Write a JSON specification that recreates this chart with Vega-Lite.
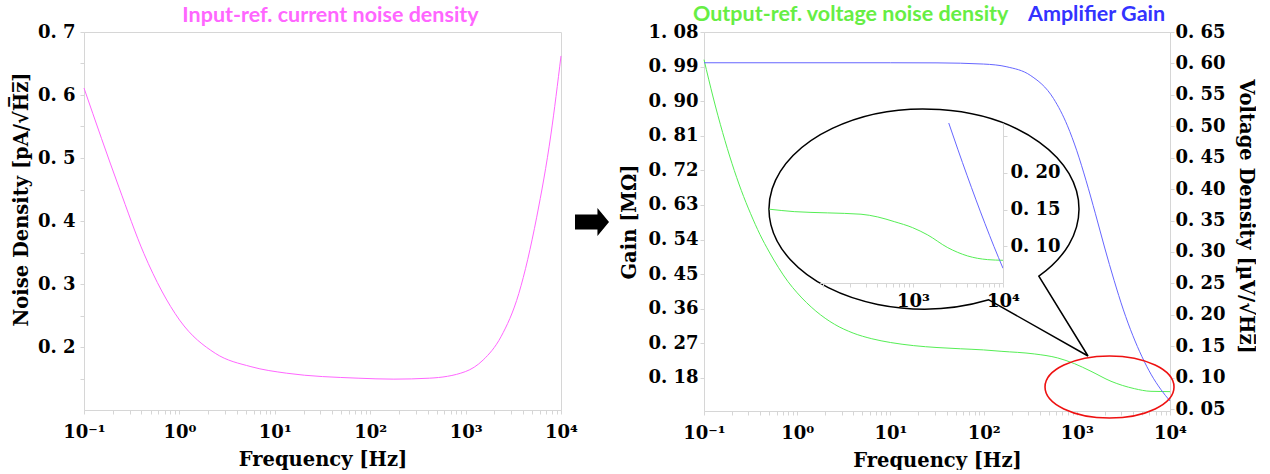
{
  "$schema": "https://vega.github.io/schema/vega-lite/v6.json",
  "background": "white",
  "padding": {"left": 10, "top": 3, "right": 0, "bottom": 0},
  "bounds": "flush",
  "spacing": 143,
  "datasets": {
    "pink": [
      {"f": 0.1, "v": 0.611}, {"f": 0.2323, "v": 0.4536}, {"f": 0.4246, "v": 0.3483},
      {"f": 1.005, "v": 0.2427}, {"f": 2.377, "v": 0.19}, {"f": 5.623, "v": 0.1688},
      {"f": 13.34, "v": 0.1584}, {"f": 74.65, "v": 0.1505}, {"f": 177.0, "v": 0.149},
      {"f": 418.8, "v": 0.1505}, {"f": 993, "v": 0.1609}, {"f": 1528, "v": 0.1794},
      {"f": 2350, "v": 0.2163}, {"f": 3614, "v": 0.285}, {"f": 5559, "v": 0.406},
      {"f": 7852, "v": 0.538}, {"f": 10000, "v": 0.662}
    ],
    "green": [
      {"f": 0.1, "v": 0.606}, {"f": 0.1259, "v": 0.545}, {"f": 0.1585, "v": 0.49},
      {"f": 0.1995, "v": 0.441}, {"f": 0.2512, "v": 0.398}, {"f": 0.3162, "v": 0.361},
      {"f": 0.3981, "v": 0.328}, {"f": 0.5012, "v": 0.3}, {"f": 0.631, "v": 0.275},
      {"f": 0.7943, "v": 0.253}, {"f": 1.0, "v": 0.235}, {"f": 1.585, "v": 0.206},
      {"f": 2.512, "v": 0.185}, {"f": 3.981, "v": 0.171}, {"f": 6.31, "v": 0.162},
      {"f": 10, "v": 0.156}, {"f": 17.78, "v": 0.151}, {"f": 31.62, "v": 0.148},
      {"f": 56.23, "v": 0.146}, {"f": 100, "v": 0.1442}, {"f": 154, "v": 0.142},
      {"f": 350, "v": 0.1378}, {"f": 624, "v": 0.1314}, {"f": 942, "v": 0.1224},
      {"f": 1419, "v": 0.1102}, {"f": 2328, "v": 0.0943}, {"f": 4140, "v": 0.0826},
      {"f": 6252, "v": 0.0783}, {"f": 10000, "v": 0.0778}
    ],
    "blue": [
      {"f": 0.1, "g": 1.0}, {"f": 10, "g": 1.0}, {"f": 31.62, "g": 0.9997},
      {"f": 100, "g": 0.9966}, {"f": 177.8, "g": 0.9894}, {"f": 316.2, "g": 0.9675},
      {"f": 562.3, "g": 0.907}, {"f": 794.3, "g": 0.836}, {"f": 1000, "g": 0.771},
      {"f": 1259, "g": 0.693}, {"f": 1585, "g": 0.607}, {"f": 1995, "g": 0.518},
      {"f": 2512, "g": 0.434}, {"f": 3162, "g": 0.357}, {"f": 3981, "g": 0.291},
      {"f": 5012, "g": 0.235}, {"f": 6310, "g": 0.188}, {"f": 7943, "g": 0.1506},
      {"f": 10000, "g": 0.12}
    ],
    "inset": [
      {"f": 25.35, "v": 0.1504, "s": "g"}, {"f": 47.97, "v": 0.1471, "s": "g"},
      {"f": 112.7, "v": 0.1454, "s": "g"}, {"f": 264.2, "v": 0.1436, "s": "g"},
      {"f": 404.6, "v": 0.1399, "s": "g"}, {"f": 619.4, "v": 0.1335, "s": "g"},
      {"f": 990.8, "v": 0.1253, "s": "g"}, {"f": 1455, "v": 0.1154, "s": "g"},
      {"f": 2432, "v": 0.0981, "s": "g"}, {"f": 4046, "v": 0.0868, "s": "g"},
      {"f": 6761, "v": 0.0818, "s": "g"}, {"f": 10000, "v": 0.0809, "s": "g"},
      {"f": 2495, "v": 0.2677, "s": "b"}, {"f": 3162, "v": 0.2312, "s": "b"},
      {"f": 3981, "v": 0.1966, "s": "b"}, {"f": 5012, "v": 0.1631, "s": "b"},
      {"f": 6310, "v": 0.1307, "s": "b"}, {"f": 7943, "v": 0.0996, "s": "b"},
      {"f": 10000, "v": 0.07, "s": "b"}
    ],
    "callout": [{"f": 22.94, "v": 0.3684}],
    "ring": [{"f": 2244, "v": 0.0852}],
    "arrow": [{"f": 21135, "v": 0.3984}],
    "heads": [
      {"t": "Output-ref. voltage noise density", "f": 0.0762, "v": 0.677, "s": "g"},
      {"t": "Amplifier Gain", "f": 299.3, "v": 0.677, "s": "b"}
    ]
  },
  "hconcat": [
    {
      "width": 477,
      "height": 378,
      "title": {"text": "Input-ref. current noise density", "color": "#FF66FF", "font": "Lato", "fontSize": 21.5, "fontWeight": "bold", "offset": -3, "dx": 8},
      "resolve": {"scale": {"x": "independent", "y": "independent"}, "axis": {"x": "independent", "y": "independent"}},
      "layer": [
        {
          "data": {"name": "pink"},
          "mark": {"type": "line", "color": "#FF66FF", "strokeWidth": 1, "interpolate": "monotone"},
          "encoding": {
            "x": {"field": "f", "type": "quantitative",
              "scale": {"type": "log", "domain": [0.1, 10000], "nice": false},
              "axis": {"orient": "bottom", "title": "Frequency [Hz]", "labelPadding": 9, "titlePadding": 9,
                "values": [0.1,0.2,0.3,0.4,0.5,0.6,0.7,0.8,0.9,1,2,3,4,5,6,7,8,9,10,20,30,40,50,60,70,80,90,100,200,300,400,500,600,700,800,900,1000,2000,3000,4000,5000,6000,7000,8000,9000,10000],
                "labelExpr": "datum.value == 0.1 ? '10⁻¹' : datum.value == 1 ? '10⁰' : datum.value == 10 ? '10¹' : datum.value == 100 ? '10²' : datum.value == 1000 ? '10³' : datum.value == 10000 ? '10⁴' : ''"}},
            "y": {"field": "v", "type": "quantitative",
              "scale": {"domain": [0.1, 0.7], "nice": false, "zero": false},
              "axis": {"orient": "left", "title": "Noise Density [pA/√H̅z̅]", "labelPadding": 5, "titlePadding": 6, "titleY": 167,
                "values": [0.15,0.2,0.25,0.3,0.35,0.4,0.45,0.5,0.55,0.6,0.65,0.7],
                "labelExpr": "datum.value == 0.2 ? '0. 2' : datum.value == 0.3 ? '0. 3' : datum.value == 0.4 ? '0. 4' : datum.value == 0.5 ? '0. 5' : datum.value == 0.6 ? '0. 6' : datum.value == 0.7 ? '0. 7' : ''"}}
          }
        },
        {
          "data": {"name": "arrow"},
          "mark": {"type": "point", "shape": "M -1 -0.44 L 0.32 -0.44 L 0.32 -0.83 L 1 0 L 0.32 0.83 L 0.32 0.44 L -1 0.44 Z", "filled": true, "fill": "black", "strokeWidth": 0, "opacity": 1, "size": 1156},
          "encoding": {
            "x": {"field": "f", "type": "quantitative", "scale": {"type": "log", "domain": [0.1, 10000], "nice": false}, "axis": null},
            "y": {"field": "v", "type": "quantitative", "scale": {"domain": [0.1, 0.7], "nice": false, "zero": false}, "axis": null}
          }
        }
      ]
    },
    {
      "width": 466,
      "height": 379,
      "resolve": {"scale": {"x": "independent", "y": "independent", "color": "independent"}, "axis": {"x": "independent", "y": "independent"}},
      "layer": [
        {
          "data": {"name": "green"},
          "mark": {"type": "line", "color": "#55EE55", "strokeWidth": 1, "interpolate": "monotone"},
          "encoding": {
            "x": {"field": "f", "type": "quantitative",
              "scale": {"type": "log", "domain": [0.1, 10000], "nice": false},
              "axis": {"orient": "bottom", "title": "Frequency [Hz]", "labelPadding": 9, "titlePadding": 9,
                "values": [0.1,0.2,0.3,0.4,0.5,0.6,0.7,0.8,0.9,1,2,3,4,5,6,7,8,9,10,20,30,40,50,60,70,80,90,100,200,300,400,500,600,700,800,900,1000,2000,3000,4000,5000,6000,7000,8000,9000,10000],
                "labelExpr": "datum.value == 0.1 ? '10⁻¹' : datum.value == 1 ? '10⁰' : datum.value == 10 ? '10¹' : datum.value == 100 ? '10²' : datum.value == 1000 ? '10³' : datum.value == 10000 ? '10⁴' : ''"}},
            "y": {"field": "v", "type": "quantitative",
              "scale": {"domain": [0.047, 0.65], "nice": false, "zero": false},
              "axis": {"orient": "right", "title": "Voltage Density [µV/√H̅z̅]", "labelPadding": 1, "titlePadding": 10, "titleY": 184,
                "values": [0.05,0.1,0.15,0.2,0.25,0.3,0.35,0.4,0.45,0.5,0.55,0.6,0.65],
                "labelExpr": "replace(format(datum.value, '.2f'), '.', '. ')"}}
          }
        },
        {
          "data": {"name": "blue"},
          "mark": {"type": "line", "color": "#6666FF", "strokeWidth": 1, "interpolate": "monotone"},
          "encoding": {
            "x": {"field": "f", "type": "quantitative",
              "scale": {"type": "log", "domain": [0.1, 10000], "nice": false}, "axis": null},
            "y": {"field": "g", "type": "quantitative",
              "scale": {"domain": [0.094, 1.08], "nice": false, "zero": false},
              "axis": {"orient": "left", "title": "Gain [MΩ]", "labelPadding": 2, "titlePadding": 8,
                "values": [0.18,0.27,0.36,0.45,0.54,0.63,0.72,0.81,0.9,0.99,1.08],
                "labelExpr": "replace(format(datum.value, '.2f'), '.', '. ')"}}
          }
        },
        {
          "data": {"name": "callout"},
          "mark": {"type": "point", "shape": "M 0.3811 0.5344 L 0.9647 0.8647 L 0.6755 0.3951 A 0.9118 0.5882 0 1 0 0.3811 0.5344 Z", "filled": true, "fill": "white", "stroke": "black", "strokeWidth": 1.5, "opacity": 1, "fillOpacity": 1, "size": 115600},
          "encoding": {
            "x": {"field": "f", "type": "quantitative", "scale": {"type": "log", "domain": [0.1, 10000], "nice": false}, "axis": null},
            "y": {"field": "v", "type": "quantitative", "scale": {"domain": [0.047, 0.65], "nice": false, "zero": false}, "axis": null}
          }
        },
        {
          "data": {"name": "inset"},
          "mark": {"type": "line", "strokeWidth": 1, "interpolate": "monotone"},
          "encoding": {
            "x": {"field": "f", "type": "quantitative",
              "scale": {"type": "log", "domain": [91.9, 10000], "range": [115.7, 299], "nice": false},
              "axis": {"orient": "bottom", "offset": -128, "zindex": 1, "title": null, "labelPadding": 5,
                "values": [100,200,300,400,500,600,700,800,900,1000,2000,3000,4000,5000,6000,7000,8000,9000,10000],
                "labelExpr": "datum.value == 1000 ? '10³' : datum.value == 10000 ? '10⁴' : ''"}},
            "y": {"field": "v", "type": "quantitative",
              "scale": {"domain": [0.05, 0.2677], "range": [251, 91], "nice": false, "zero": false},
              "axis": {"orient": "right", "offset": -167, "zindex": 1, "title": null, "labelPadding": 3,
                "values": [0.1, 0.15, 0.2, 0.25],
                "labelExpr": "datum.value > 0.22 ? '' : replace(format(datum.value, '.2f'), '.', '. ')"}},
            "color": {"field": "s", "type": "nominal", "scale": {"domain": ["g", "b"], "range": ["#55EE55", "#6666FF"]}, "legend": null}
          }
        },
        {
          "data": {"name": "ring"},
          "mark": {"type": "point", "shape": "M 1 0 C 1 0.2654 0.5523 0.4806 0 0.4806 C -0.5523 0.4806 -1 0.2654 -1 0 C -1 -0.2654 -0.5523 -0.4806 0 -0.4806 C 0.5523 -0.4806 1 -0.2654 1 0 Z", "filled": false, "color": "#EE1111", "strokeWidth": 1.6, "opacity": 1, "size": 16641},
          "encoding": {
            "x": {"field": "f", "type": "quantitative", "scale": {"type": "log", "domain": [0.1, 10000], "nice": false}, "axis": null},
            "y": {"field": "v", "type": "quantitative", "scale": {"domain": [0.047, 0.65], "nice": false, "zero": false}, "axis": null}
          }
        },
        {
          "data": {"name": "heads"},
          "mark": {"type": "text", "align": "left", "baseline": "middle", "font": "Lato", "fontSize": 21.5, "fontWeight": "bold"},
          "encoding": {
            "x": {"field": "f", "type": "quantitative", "scale": {"type": "log", "domain": [0.1, 10000], "nice": false}, "axis": null},
            "y": {"field": "v", "type": "quantitative", "scale": {"domain": [0.047, 0.65], "nice": false, "zero": false}, "axis": null},
            "text": {"field": "t"},
            "color": {"field": "s", "type": "nominal", "scale": {"domain": ["g", "b"], "range": ["#66EE44", "#3333FF"]}, "legend": null}
          }
        }
      ]
    }
  ],
  "config": {
    "view": {"stroke": "#d6d6d6"},
    "axis": {
      "domainColor": "#d6d6d6", "tickColor": "#d6d6d6", "tickSize": 4, "grid": false,
      "labelFont": "DejaVu Serif", "labelFontWeight": "bold", "labelFontSize": 18, "labelColor": "black",
      "titleFont": "DejaVu Serif", "titleFontWeight": "bold", "titleFontSize": 19.5, "titleColor": "black",
      "labelOverlap": false, "labelFlush": false, "labelBound": false
    }
  }
}
